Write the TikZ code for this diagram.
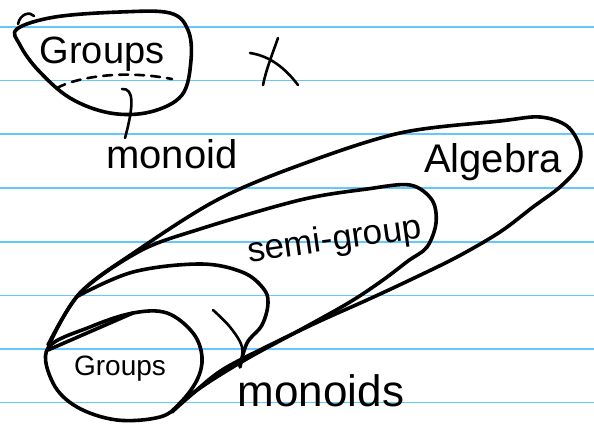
\documentclass[tikz,border=0pt]{standalone}
\usepackage{fontspec}
\setmainfont{Liberation Sans}
\definecolor{ruleblue}{RGB}{100,200,255}
\begin{document}
\begin{tikzpicture}[x=1pt,y=-1pt,
  ink/.style={line width=3.6pt,line cap=round,line join=round},
  thin ink/.style={line width=2.6pt,line cap=round,line join=round},
  ruled/.style={ruleblue,line width=1.8pt},
  label/.style={inner sep=0pt,anchor=base}]
\useasboundingbox[fill=white] (0,0) rectangle (594,426);
% ruled paper lines
\foreach \yy in {27,80.5,134,188,242,295.5,349,402.5}
  \draw[ruled] (0,\yy) -- (594,\yy);

% ---- top-left Groups blob
\draw[ink] plot[smooth cycle,tension=0.6] coordinates
  {(17,29) (55,17) (120,12) (170,13) (188,30) (191,60) (182,95) (150,112) (110,113) (70,98) (38,70) (20,45)};
\draw[thin ink] (18,24) .. controls (20,14) and (30,11) .. (34,16);
\draw[thin ink,dash pattern=on 9pt off 7pt] (57,88) .. controls (75,78) and (120,69) .. (172,79);
\draw[thin ink] (122,89) .. controls (134,88) and (134,105) .. (125,138);
\node[label,font=\fontsize{38}{40}\selectfont] (groupsTop) at (102,63) {Groups};
\node[label,font=\fontsize{40}{42}\selectfont] (monoidTop) at (172,168) {monoid};

% ---- cross mark
\draw[thin ink] (250,53) .. controls (270,56) and (285,68) .. (298,85);
\draw[thin ink] (278,38) .. controls (272,55) and (266,70) .. (263,85);

% ---- Algebra tube
\draw[ink] plot[smooth,tension=0.55] coordinates
  {(48,345) (80,293) (135,252) (217,200) (300,165) (400,133) (500,121) (540,117) (567,126) (580,147) (578,167) (560,187) (533,207) (500,232) (457,257) (410,280) (367,300) (320,321) (270,345) (222,370) (190,396) (172,412)};
% ---- Semigroup tube
\draw[ink] plot[smooth,tension=0.55] coordinates
  {(50,343) (80,293) (140,251) (200,229) (300,200) (367,189) (410,185) (432,200) (436,223) (427,247) (408,261) (383,280) (350,302) (300,330) (250,357) (212,380) (186,398)};
% semigroup front cap
\draw[ink] plot[smooth,tension=0.6] coordinates
  {(78,296) (133,272) (200,264) (242,272) (263,288) (268,303) (262,325) (247,343) (240,367)};
\draw[thin ink] plot[smooth,tension=0.6] coordinates
  {(213,310) (230,327) (242,347) (240,367)};

% ---- bottom Groups circle
\draw[ink] plot[smooth cycle,tension=0.6] coordinates
  {(48,348) (90,327) (133,313) (167,313) (193,333) (202,357) (197,380) (180,403) (160,417) (117,420) (77,407) (53,383)};
\draw[ink] (48,350) -- (133,313);

% ---- labels
\node[label,font=\fontsize{40}{42}\selectfont] (algebra) at (493,172) {Algebra};
\node[label,font=\fontsize{35}{37}\selectfont,rotate=8] (semigroup) at (336,250) {semi-group};
\node[label,font=\fontsize{28}{30}\selectfont] (groupsBottom) at (120,375) {Groups};
\node[label,font=\fontsize{44}{46}\selectfont] (monoids) at (321,406) {monoids};
\end{tikzpicture}
\end{document}
